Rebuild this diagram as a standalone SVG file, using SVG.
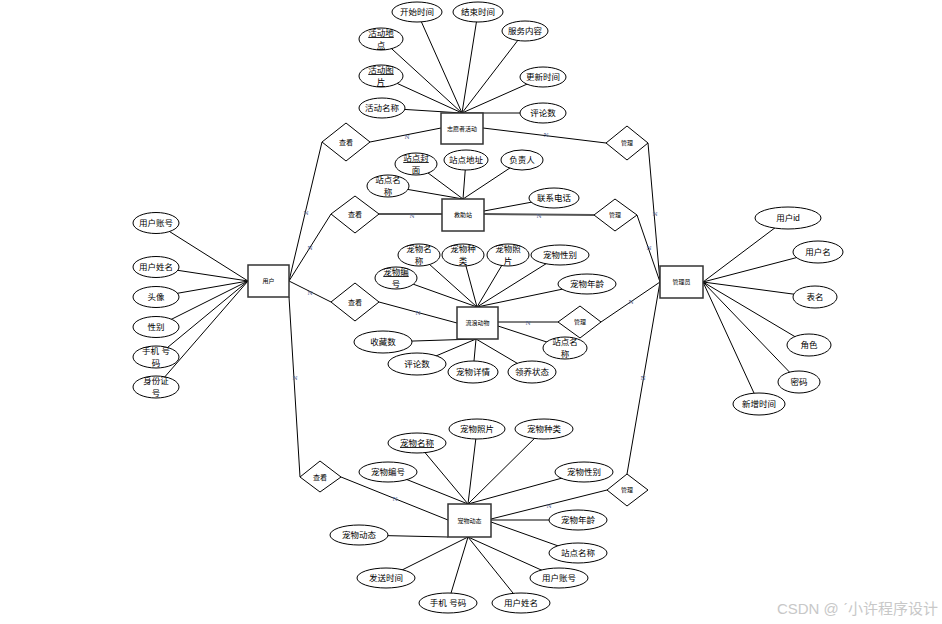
<svg xmlns="http://www.w3.org/2000/svg" width="942" height="624" viewBox="0 0 942 624">
<style>
.e{fill:#fff;stroke:#000;stroke-width:1}
.r{fill:#fff;stroke:#333;stroke-width:1.5}
.d{fill:#fff;stroke:#000;stroke-width:1}
.t{font-family:"Liberation Sans","Noto Sans CJK SC",sans-serif;font-size:8.5px;text-anchor:middle;fill:#000}
.s{font-size:6px}
.u{text-decoration:underline}
.n{font-family:"Liberation Serif",serif;font-size:7px;text-anchor:middle;fill:#4a628e}
.l line{stroke:#000;stroke-width:1}
.l .g{stroke:#555;stroke-width:2}
</style>
<rect width="942" height="624" fill="#fff"/>
<g id="connectors" class="l">
<line x1="156" y1="223" x2="248" y2="281"/>
<line x1="156" y1="267" x2="248" y2="281"/>
<line x1="156" y1="297" x2="248" y2="281"/>
<line x1="156" y1="327" x2="248" y2="281"/>
<line x1="156" y1="357" x2="248" y2="281"/>
<line x1="156" y1="387" x2="248" y2="281"/>
<line x1="289" y1="281" x2="322" y2="142"/>
<line x1="289" y1="281" x2="331" y2="214"/>
<line x1="289" y1="281" x2="331" y2="302"/>
<line x1="289" y1="297" x2="300" y2="477"/>
<line x1="370" y1="142" x2="441" y2="128"/>
<line class="g" x1="379" y1="214" x2="442" y2="214"/>
<line x1="379" y1="302" x2="457" y2="323"/>
<line x1="341" y1="477" x2="448" y2="520"/>
<line x1="483" y1="128" x2="606" y2="143"/>
<line class="g" x1="484" y1="214" x2="594" y2="215"/>
<line x1="498" y1="322" x2="558" y2="322"/>
<line x1="491" y1="519" x2="607" y2="490"/>
<line x1="648" y1="143" x2="660" y2="282"/>
<line x1="637" y1="215" x2="660" y2="282"/>
<line x1="601" y1="322" x2="660" y2="282"/>
<line x1="627" y1="474" x2="660" y2="282"/>
<line x1="417" y1="12" x2="462" y2="113"/>
<line x1="478" y1="12" x2="462" y2="113"/>
<line x1="525" y1="31" x2="462" y2="113"/>
<line x1="543" y1="77" x2="462" y2="113"/>
<line x1="543" y1="113" x2="462" y2="113"/>
<line x1="382" y1="108" x2="462" y2="113"/>
<line x1="381" y1="76" x2="462" y2="113"/>
<line x1="381" y1="39" x2="462" y2="113"/>
<line x1="416" y1="164" x2="463" y2="199"/>
<line x1="466" y1="160" x2="463" y2="199"/>
<line x1="522" y1="160" x2="463" y2="199"/>
<line x1="388" y1="186" x2="463" y2="199"/>
<line x1="554" y1="198" x2="484" y2="211"/>
<line x1="419" y1="255" x2="477" y2="307"/>
<line x1="463" y1="255" x2="477" y2="307"/>
<line x1="508" y1="255" x2="477" y2="307"/>
<line x1="560" y1="255" x2="477" y2="307"/>
<line x1="587" y1="284" x2="477" y2="307"/>
<line x1="396" y1="278" x2="477" y2="307"/>
<line x1="383" y1="342" x2="476" y2="339"/>
<line x1="417" y1="364" x2="476" y2="339"/>
<line x1="473" y1="372" x2="476" y2="339"/>
<line x1="532" y1="372" x2="476" y2="339"/>
<line x1="565" y1="348" x2="498" y2="326"/>
<line x1="417" y1="443" x2="468" y2="504"/>
<line x1="477" y1="429" x2="468" y2="504"/>
<line x1="544" y1="429" x2="468" y2="504"/>
<line x1="388" y1="472" x2="468" y2="504"/>
<line x1="584" y1="472" x2="468" y2="504"/>
<line x1="578" y1="520" x2="491" y2="520"/>
<line x1="578" y1="553" x2="491" y2="522"/>
<line x1="559" y1="578" x2="468" y2="537"/>
<line x1="521" y1="603" x2="468" y2="537"/>
<line x1="448" y1="603" x2="468" y2="537"/>
<line x1="386" y1="578" x2="468" y2="537"/>
<line x1="359" y1="535" x2="448" y2="537"/>
<line x1="788" y1="218" x2="703" y2="282"/>
<line x1="818" y1="252" x2="703" y2="282"/>
<line x1="815" y1="297" x2="703" y2="282"/>
<line x1="809" y1="345" x2="703" y2="282"/>
<line x1="799" y1="382" x2="703" y2="282"/>
<line x1="759" y1="404" x2="703" y2="282"/>
<text class="n" x="306" y="215">N</text>
<text class="n" x="310" y="250">N</text>
<text class="n" x="310" y="295">N</text>
<text class="n" x="295" y="380">N</text>
<text class="n" x="407" y="139">N</text>
<text class="n" x="412" y="218">N</text>
<text class="n" x="418" y="315">N</text>
<text class="n" x="395" y="501">N</text>
<text class="n" x="546" y="137">N</text>
<text class="n" x="539" y="218">N</text>
<text class="n" x="528" y="325">N</text>
<text class="n" x="549" y="508">N</text>
<text class="n" x="655" y="216">N</text>
<text class="n" x="649" y="250">N</text>
<text class="n" x="631" y="304">N</text>
<text class="n" x="643" y="380">N</text>
</g>

<g id="user"><rect class="r" x="248" y="265" width="41" height="32"/><text class="t s" x="268.5" y="283">用户</text></g>
<g id="activity"><rect class="r" x="441" y="113" width="42" height="31"/><text class="t s" x="462" y="130.5">志愿者活动</text></g>
<g id="station"><rect class="r" x="442" y="199" width="42" height="32"/><text class="t s" x="463" y="217">救助站</text></g>
<g id="stray"><rect class="r" x="457" y="307" width="41" height="32"/><text class="t s" x="477.5" y="325">流浪动物</text></g>
<g id="admin"><rect class="r" x="660" y="266" width="43" height="32"/><text class="t s" x="681.5" y="284">管理员</text></g>
<g id="petdyn"><rect class="r" x="448" y="504" width="43" height="33"/><text class="t s" x="469.5" y="522.5">宠物动态</text></g>

<g id="view1"><polygon class="d" points="322,142 346,123 370,142 346,161"/><text class="t" x="346" y="145" style="font-size:7px">查看</text></g>
<g id="manage1"><polygon class="d" points="606,143 627,126 648,143 627,160"/><text class="t s" x="627" y="145">管理</text></g>
<g id="view2"><polygon class="d" points="331,214 355,196 379,214 355,233"/><text class="t" x="355" y="217" style="font-size:7px">查看</text></g>
<g id="manage2"><polygon class="d" points="594,215 615,199 637,215 615,231"/><text class="t s" x="615" y="217">管理</text></g>
<g id="view3"><polygon class="d" points="331,302 355,283 379,302 355,321"/><text class="t" x="355" y="305" style="font-size:7px">查看</text></g>
<g id="manage3"><polygon class="d" points="558,322 580,306 601,322 580,338"/><text class="t s" x="580" y="324">管理</text></g>
<g id="view4"><polygon class="d" points="300,477 320,461 341,477 320,492"/><text class="t" x="320" y="480" style="font-size:7px">查看</text></g>
<g id="manage4"><polygon class="d" points="607,490 627,474 648,490 627,506"/><text class="t s" x="627" y="492">管理</text></g>

<g id="u_acc"><ellipse class="e" cx="156" cy="223" rx="23" ry="10.5"/><text class="t" x="156" y="226">用户账号</text></g>
<g id="u_name"><ellipse class="e" cx="156" cy="267" rx="23" ry="10.5"/><text class="t" x="156" y="270">用户姓名</text></g>
<g id="u_avatar"><ellipse class="e" cx="156" cy="297" rx="23" ry="10.5"/><text class="t" x="156" y="300">头像</text></g>
<g id="u_sex"><ellipse class="e" cx="156" cy="327" rx="23" ry="10.5"/><text class="t" x="156" y="330">性别</text></g>
<g id="u_phone"><ellipse class="e" cx="156" cy="357" rx="23" ry="11"/><text class="t" x="156" y="354">手机 号</text><text class="t" x="156" y="366">码</text></g>
<g id="u_idcard"><ellipse class="e" cx="156" cy="387" rx="23" ry="11"/><text class="t" x="156" y="384">身份证</text><text class="t" x="156" y="396">号</text></g>

<g id="a_start"><ellipse class="e" cx="417" cy="12" rx="25" ry="10"/><text class="t" x="417" y="15">开始时间</text></g>
<g id="a_end"><ellipse class="e" cx="478" cy="12" rx="25" ry="10"/><text class="t" x="478" y="15">结束时间</text></g>
<g id="a_content"><ellipse class="e" cx="525" cy="31" rx="23" ry="10"/><text class="t" x="525" y="34">服务内容</text></g>
<g id="a_update"><ellipse class="e" cx="543" cy="77" rx="23" ry="10"/><text class="t" x="543" y="80">更新时间</text></g>
<g id="a_comment"><ellipse class="e" cx="543" cy="113" rx="23" ry="10"/><text class="t" x="543" y="116">评论数</text></g>
<g id="a_name"><ellipse class="e" cx="382" cy="108" rx="23" ry="10"/><text class="t" x="382" y="111">活动名称</text></g>
<g id="a_pic"><ellipse class="e" cx="381" cy="76" rx="22" ry="11"/><text class="t u" x="381" y="73">活动图</text><text class="t u" x="381" y="85">片</text></g>
<g id="a_place"><ellipse class="e" cx="381" cy="39" rx="22" ry="11"/><text class="t u" x="381" y="36">活动地</text><text class="t u" x="381" y="48">点</text></g>

<g id="s_cover"><ellipse class="e" cx="416" cy="164" rx="21" ry="11"/><text class="t u" x="416" y="161">站点封</text><text class="t" x="416" y="173">面</text></g>
<g id="s_addr"><ellipse class="e" cx="466" cy="160" rx="22" ry="10"/><text class="t" x="466" y="163">站点地址</text></g>
<g id="s_owner"><ellipse class="e" cx="522" cy="160" rx="21" ry="10"/><text class="t" x="522" y="163">负责人</text></g>
<g id="s_name"><ellipse class="e" cx="388" cy="186" rx="21" ry="11"/><text class="t" x="388" y="183">站点名</text><text class="t" x="388" y="195">称</text></g>
<g id="s_tel"><ellipse class="e" cx="554" cy="198" rx="25" ry="10"/><text class="t" x="554" y="201">联系电话</text></g>

<g id="p_name"><ellipse class="e" cx="419" cy="255" rx="21" ry="11"/><text class="t" x="419" y="252">宠物名</text><text class="t" x="419" y="264">称</text></g>
<g id="p_kind"><ellipse class="e" cx="463" cy="255" rx="21" ry="11"/><text class="t" x="463" y="252">宠物种</text><text class="t" x="463" y="264">类</text></g>
<g id="p_photo"><ellipse class="e" cx="508" cy="255" rx="21" ry="11"/><text class="t" x="508" y="252">宠物照</text><text class="t" x="508" y="264">片</text></g>
<g id="p_sex"><ellipse class="e" cx="560" cy="255" rx="29" ry="10"/><text class="t" x="560" y="258">宠物性别</text></g>
<g id="p_age"><ellipse class="e" cx="587" cy="284" rx="29" ry="10"/><text class="t" x="587" y="287">宠物年龄</text></g>
<g id="p_no"><ellipse class="e" cx="396" cy="278" rx="21" ry="11"/><text class="t u" x="396" y="275">宠物编</text><text class="t" x="396" y="287">号</text></g>
<g id="p_fav"><ellipse class="e" cx="383" cy="342" rx="29" ry="11"/><text class="t" x="383" y="345">收藏数</text></g>
<g id="p_comment"><ellipse class="e" cx="417" cy="364" rx="29" ry="11"/><text class="t" x="417" y="367">评论数</text></g>
<g id="p_detail"><ellipse class="e" cx="473" cy="372" rx="25" ry="11"/><text class="t" x="473" y="375">宠物详情</text></g>
<g id="p_state"><ellipse class="e" cx="532" cy="372" rx="24" ry="11"/><text class="t" x="532" y="375">领养状态</text></g>
<g id="p_station"><ellipse class="e" cx="565" cy="348" rx="22" ry="11"/><text class="t" x="565" y="345">站点名</text><text class="t" x="565" y="357">称</text></g>

<g id="d_name"><ellipse class="e" cx="417" cy="443" rx="29" ry="10"/><text class="t u" x="417" y="446">宠物名称</text></g>
<g id="d_photo"><ellipse class="e" cx="477" cy="429" rx="28" ry="10"/><text class="t" x="477" y="432">宠物照片</text></g>
<g id="d_kind"><ellipse class="e" cx="544" cy="429" rx="29" ry="10"/><text class="t" x="544" y="432">宠物种类</text></g>
<g id="d_no"><ellipse class="e" cx="388" cy="472" rx="29" ry="10"/><text class="t" x="388" y="475">宠物编号</text></g>
<g id="d_sex"><ellipse class="e" cx="584" cy="472" rx="29" ry="10"/><text class="t" x="584" y="475">宠物性别</text></g>
<g id="d_age"><ellipse class="e" cx="578" cy="520" rx="29" ry="10"/><text class="t" x="578" y="523">宠物年龄</text></g>
<g id="d_station"><ellipse class="e" cx="578" cy="553" rx="29" ry="10"/><text class="t" x="578" y="556">站点名称</text></g>
<g id="d_acc"><ellipse class="e" cx="559" cy="578" rx="29" ry="10"/><text class="t" x="559" y="581">用户账号</text></g>
<g id="d_uname"><ellipse class="e" cx="521" cy="603" rx="29" ry="10"/><text class="t" x="521" y="606">用户姓名</text></g>
<g id="d_phone"><ellipse class="e" cx="448" cy="603" rx="29" ry="10"/><text class="t" x="448" y="606">手机 号码</text></g>
<g id="d_time"><ellipse class="e" cx="386" cy="578" rx="29" ry="10"/><text class="t" x="386" y="581">发送时间</text></g>
<g id="d_dyn"><ellipse class="e" cx="359" cy="535" rx="29" ry="10"/><text class="t" x="359" y="538">宠物动态</text></g>

<g id="m_id"><ellipse class="e" cx="788" cy="218" rx="33" ry="11"/><text class="t" x="788" y="221">用户id</text></g>
<g id="m_uname"><ellipse class="e" cx="818" cy="252" rx="25" ry="11"/><text class="t" x="818" y="255">用户名</text></g>
<g id="m_table"><ellipse class="e" cx="815" cy="297" rx="22" ry="11"/><text class="t" x="815" y="300">表名</text></g>
<g id="m_role"><ellipse class="e" cx="809" cy="345" rx="22" ry="11"/><text class="t" x="809" y="348">角色</text></g>
<g id="m_pwd"><ellipse class="e" cx="799" cy="382" rx="21" ry="11"/><text class="t" x="799" y="385">密码</text></g>
<g id="m_time"><ellipse class="e" cx="759" cy="404" rx="26" ry="11"/><text class="t" x="759" y="407">新增时间</text></g>

<text x="938" y="614" style="font-family:'Liberation Sans','Noto Sans CJK SC',sans-serif;font-size:15px;text-anchor:end;fill:#c8c8c8">CSDN @ ˊ小许程序设计</text>
</svg>
